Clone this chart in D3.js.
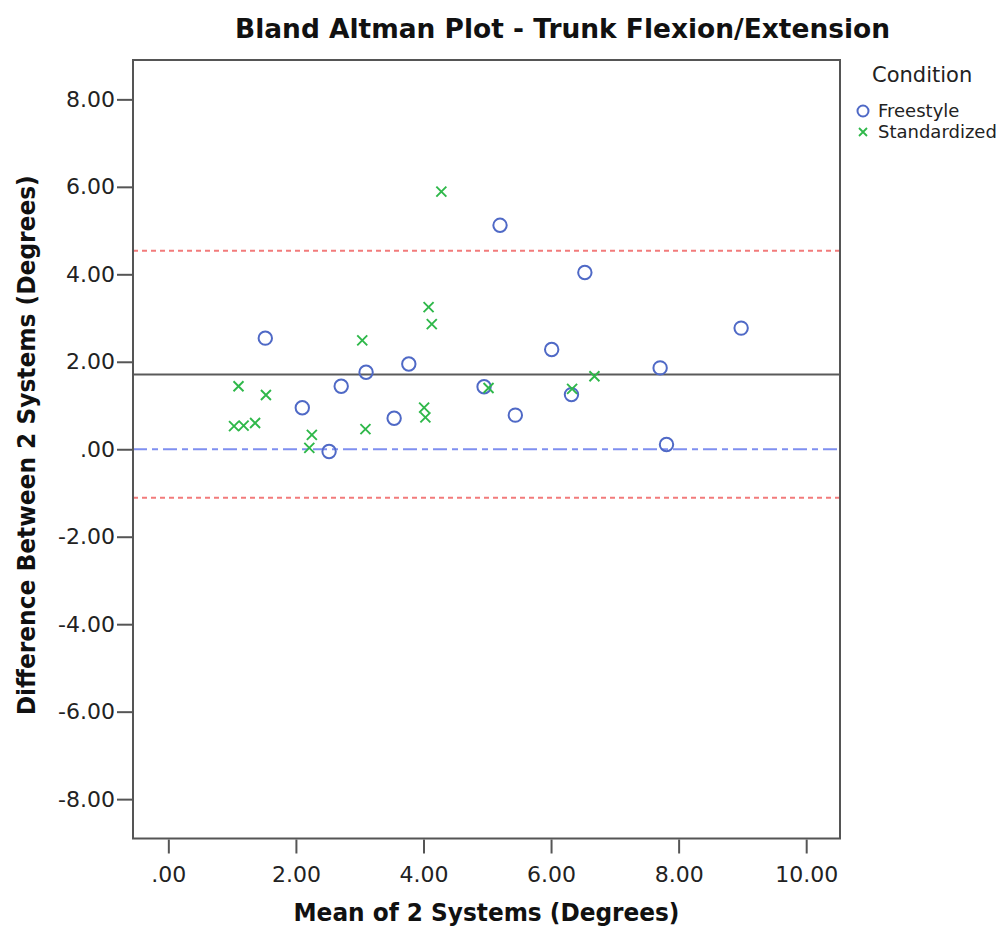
<!DOCTYPE html>
<html>
<head>
<meta charset="utf-8">
<script src="https://cdn.jsdelivr.net/npm/d3@7"></script>
<style>
  html, body { margin: 0; padding: 0; background: #ffffff; }
  svg { display: block; font-family: "DejaVu Sans", sans-serif; }
</style>
</head>
<body>
<svg id="chart" width="1008" height="929"></svg>
<script>
// Bland–Altman data: mean of the two systems (x) vs. their difference (y), in degrees
const freestyleMean = [1.52, 2.10, 2.52, 2.71, 3.10, 3.77, 3.54, 4.95, 5.20, 6.53, 8.98, 6.01, 7.71, 6.32, 5.44, 7.81];
const freestyleDiff = [2.54, 0.95, -0.05, 1.44, 1.76, 1.95, 0.71, 1.43, 5.12, 4.04, 2.77, 2.28, 1.86, 1.25, 0.78, 0.11];

const standardizedMean = [4.28, 4.08, 4.13, 3.04, 1.10, 1.53, 1.03, 1.18, 1.36, 2.25, 2.21, 3.09, 4.01, 4.03, 5.02, 6.33, 6.68];
const standardizedDiff = [5.89, 3.25, 2.86, 2.49, 1.44, 1.24, 0.53, 0.54, 0.60, 0.33, 0.03, 0.46, 0.95, 0.73, 1.40, 1.38, 1.67];

// Reference lines: mean difference, limits of agreement, zero line
const meanDifference = 1.71;
const upperLimit = 4.54;
const lowerLimit = -1.11;
const zeroLine = 0;

// Axis ticks and their printed labels
const xTicks = [0, 2, 4, 6, 8, 10];
const xTickLabels = [".00", "2.00", "4.00", "6.00", "8.00", "10.00"];
const yTicks = [8, 6, 4, 2, 0, -2, -4, -6, -8];
const yTickLabels = ["8.00", "6.00", "4.00", "2.00", ".00", "-2.00", "-4.00", "-6.00", "-8.00"];

const conditions = ["Freestyle", "Standardized"];

// ---- layout ----
const svg = d3.select("#chart");
const plot = { left: 133, right: 840, top: 60, bottom: 838.5 };

const x = d3.scaleLinear().domain([-0.554, 10.53]).range([plot.left, plot.right]);
const y = d3.scaleLinear().domain([-8.9, 8.9]).range([plot.bottom, plot.top]);

const blue = "#4f69c6";
const green = "#2fb84a";
const frameColor = "#555555";

// Title
svg.append("text")
  .attr("x", 235).attr("y", 38)
  .attr("font-size", 26).attr("font-weight", "bold")
  .attr("fill", "#111")
  .attr("textLength", 655).attr("lengthAdjust", "spacingAndGlyphs")
  .text("Bland Altman Plot - Trunk Flexion/Extension");

// Axes
const xAxis = d3.axisBottom(x)
  .tickValues(xTicks)
  .tickFormat((d, i) => xTickLabels[i])
  .tickSize(14).tickSizeOuter(0).tickPadding(8);

const yAxis = d3.axisLeft(y)
  .tickValues(yTicks)
  .tickFormat((d, i) => yTickLabels[i])
  .tickSize(16).tickSizeOuter(0).tickPadding(2);

const gx = svg.append("g")
  .attr("transform", `translate(0,${plot.bottom + 1})`)
  .call(xAxis);
const gy = svg.append("g")
  .attr("transform", `translate(${plot.left},0)`)
  .call(yAxis);

[gx, gy].forEach(g => {
  g.select(".domain").remove();
  g.selectAll(".tick line").attr("stroke", frameColor).attr("stroke-width", 2);
  g.selectAll(".tick text")
    .attr("font-family", "DejaVu Sans, sans-serif")
    .attr("font-size", 22).attr("fill", "#222");
});
gx.selectAll(".tick text").attr("dy", "0.95em");

// Axis titles
svg.append("text")
  .attr("x", (plot.left + plot.right) / 2).attr("y", 921)
  .attr("text-anchor", "middle")
  .attr("font-size", 24).attr("font-weight", "bold").attr("fill", "#111")
  .attr("textLength", 386).attr("lengthAdjust", "spacingAndGlyphs")
  .text("Mean of 2 Systems (Degrees)");

svg.append("text")
  .attr("transform", `translate(35,${(plot.top + plot.bottom) / 2 - 4}) rotate(-90)`)
  .attr("text-anchor", "middle")
  .attr("font-size", 24).attr("font-weight", "bold").attr("fill", "#111")
  .attr("textLength", 540).attr("lengthAdjust", "spacingAndGlyphs")
  .text("Difference Between 2 Systems (Degrees)");

// Reference lines
const refLines = [
  { v: upperLimit, color: "#f27b7b", dash: "5,4", width: 2 },
  { v: lowerLimit, color: "#f27b7b", dash: "5,4", width: 2 },
  { v: zeroLine, color: "#7f8ff0", dash: "14,5,6,5", width: 2 },
  { v: meanDifference, color: "#5a5a5a", dash: null, width: 2 }
];
svg.append("g").selectAll("line")
  .data(refLines)
  .join("line")
  .attr("x1", plot.left).attr("x2", plot.right)
  .attr("y1", d => y(d.v)).attr("y2", d => y(d.v))
  .attr("stroke", d => d.color)
  .attr("stroke-width", d => d.width)
  .attr("stroke-dasharray", d => d.dash);

// Points
const freestyle = freestyleMean.map((m, i) => ({ m, d: freestyleDiff[i] }));
const standardized = standardizedMean.map((m, i) => ({ m, d: standardizedDiff[i] }));

const crossPath = s => `M${-s},${-s}L${s},${s}M${-s},${s}L${s},${-s}`;

svg.append("g").selectAll("circle")
  .data(freestyle)
  .join("circle")
  .attr("cx", d => x(d.m)).attr("cy", d => y(d.d))
  .attr("r", 6.7)
  .attr("fill", "none").attr("stroke", blue).attr("stroke-width", 2);

svg.append("g").selectAll("path")
  .data(standardized)
  .join("path")
  .attr("transform", d => `translate(${x(d.m)},${y(d.d)})`)
  .attr("d", crossPath(5))
  .attr("fill", "none").attr("stroke", green).attr("stroke-width", 1.9);

// Plot frame
svg.append("rect")
  .attr("x", plot.left).attr("y", plot.top)
  .attr("width", plot.right - plot.left).attr("height", plot.bottom - plot.top)
  .attr("fill", "none").attr("stroke", frameColor).attr("stroke-width", 2);

// Legend
const legend = svg.append("g");
legend.append("text")
  .attr("x", 872).attr("y", 82)
  .attr("font-size", 21).attr("fill", "#222")
  .text("Condition");

const items = legend.selectAll("g.item")
  .data(conditions)
  .join("g")
  .attr("class", "item")
  .attr("transform", (d, i) => `translate(863,${111 + i * 21})`);

items.each(function (d, i) {
  const g = d3.select(this);
  if (i === 0) {
    g.append("circle").attr("r", 5.5)
      .attr("fill", "none").attr("stroke", blue).attr("stroke-width", 2);
  } else {
    g.append("path").attr("d", crossPath(4))
      .attr("fill", "none").attr("stroke", green).attr("stroke-width", 1.8);
  }
  g.append("text")
    .attr("x", 15).attr("y", 6)
    .attr("font-size", 18).attr("fill", "#222")
    .text(d);
});
</script>
</body>
</html>
